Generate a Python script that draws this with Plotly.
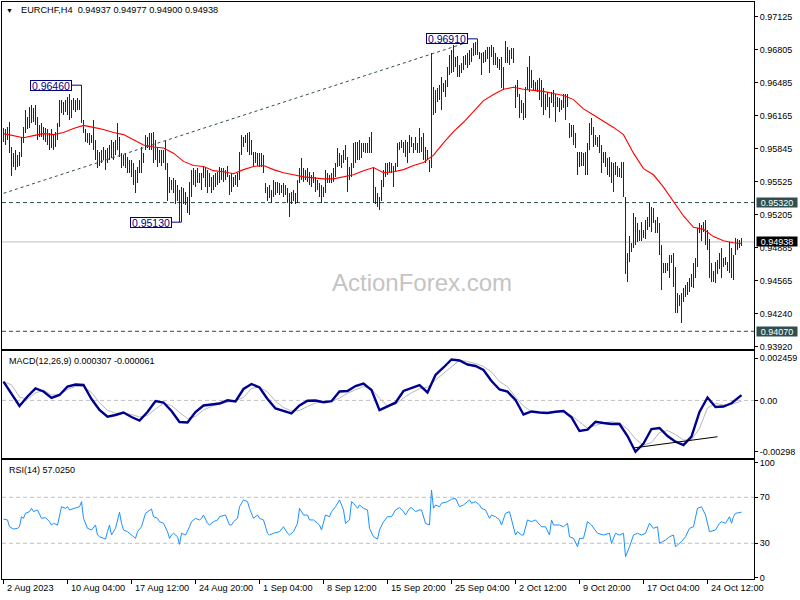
import plotly.graph_objects as go

# ---------------- data ----------------
symbol = "EURCHF,H4"
last_ohlc = [0.94937, 0.94977, 0.94900, 0.94938]

high = [
    0.9604, 0.9603, 0.9605, 0.9610, 0.9586, 0.9580, 0.9583, 0.9578, 0.9581, 0.9596,
    0.9605, 0.9622, 0.9615, 0.9625, 0.9627, 0.9624, 0.9627, 0.9615, 0.9607, 0.9609,
    0.9605, 0.9604, 0.9603, 0.9600, 0.9603, 0.9598, 0.9601, 0.9609, 0.9632, 0.9632,
    0.9630, 0.9632, 0.9635, 0.9637, 0.9632, 0.9634, 0.9632, 0.9634, 0.9632, 0.9646,
    0.9612, 0.9603, 0.9600, 0.9600, 0.9598, 0.9612, 0.9593, 0.9583, 0.9581, 0.9583,
    0.9586, 0.9583, 0.9585, 0.9588, 0.9593, 0.9591, 0.9593, 0.9609, 0.9596, 0.9580,
    0.9578, 0.9580, 0.9576, 0.9573, 0.9573, 0.9570, 0.9564, 0.9567, 0.9573, 0.9586,
    0.9580, 0.9598, 0.9596, 0.9600, 0.9600, 0.9601, 0.9593, 0.9586, 0.9583, 0.9583,
    0.9583, 0.9593, 0.9570, 0.9557, 0.9554, 0.9556, 0.9554, 0.9549, 0.9544, 0.9547,
    0.9546, 0.9542, 0.9537, 0.9552, 0.9564, 0.9566, 0.9564, 0.9566, 0.9561, 0.9561,
    0.9567, 0.9567, 0.9564, 0.9561, 0.9557, 0.9559, 0.9561, 0.9562, 0.9567, 0.9566,
    0.9566, 0.9564, 0.9568, 0.9559, 0.9561, 0.9557, 0.9559, 0.9561, 0.9581, 0.9598,
    0.9596, 0.9598, 0.9600, 0.9601, 0.9593, 0.9581, 0.9581, 0.9580, 0.9580, 0.9580,
    0.9578, 0.9551, 0.9547, 0.9549, 0.9544, 0.9554, 0.9552, 0.9552, 0.9551, 0.9549,
    0.9551, 0.9549, 0.9546, 0.9541, 0.9542, 0.9544, 0.9541, 0.9554, 0.9566, 0.9575,
    0.9566, 0.9564, 0.9566, 0.9562, 0.9559, 0.9562, 0.9557, 0.9554, 0.9551, 0.9549,
    0.9547, 0.9564, 0.9561, 0.9559, 0.9561, 0.9566, 0.9570, 0.9585, 0.9580, 0.9578,
    0.9583, 0.9588, 0.9576, 0.9567, 0.9570, 0.9590, 0.9591, 0.9591, 0.9593, 0.9590,
    0.9590, 0.9590, 0.9590, 0.9596, 0.9601, 0.9567, 0.9547, 0.9541, 0.9537, 0.9554,
    0.9564, 0.9570, 0.9570, 0.9571, 0.9570, 0.9568, 0.9570, 0.9590, 0.9591, 0.9593,
    0.9591, 0.9593, 0.9591, 0.9598, 0.9596, 0.9590, 0.9596, 0.9590, 0.9604, 0.9596,
    0.9600, 0.9586, 0.9583, 0.9573, 0.9677, 0.9644, 0.9641, 0.9643, 0.9646, 0.9654,
    0.9648, 0.9651, 0.9664, 0.9675, 0.9680, 0.9685, 0.9673, 0.9674, 0.9666, 0.9668,
    0.9674, 0.9675, 0.9677, 0.9680, 0.9682, 0.9687, 0.9688, 0.9691, 0.9678, 0.9677,
    0.9678, 0.9680, 0.9683, 0.9683, 0.9685, 0.9683, 0.9677, 0.9673, 0.9671, 0.9673,
    0.9664, 0.9689, 0.9683, 0.9680, 0.9682, 0.9682, 0.9646, 0.9651, 0.9637, 0.9632,
    0.9629, 0.9644, 0.9664, 0.9674, 0.9661, 0.9651, 0.9649, 0.9651, 0.9653, 0.9651,
    0.9643, 0.9637, 0.9639, 0.9635, 0.9639, 0.9641, 0.9637, 0.9635, 0.9634, 0.9632,
    0.9637, 0.9637, 0.9637, 0.9609, 0.9607, 0.9607, 0.9600, 0.9581, 0.9581, 0.9581,
    0.9580, 0.9581, 0.9590, 0.9609, 0.9614, 0.9605, 0.9598, 0.9596, 0.9598, 0.9588,
    0.9581, 0.9581, 0.9575, 0.9576, 0.9571, 0.9570, 0.9571, 0.9568, 0.9566, 0.9571,
    0.9571, 0.9537, 0.9483, 0.9500, 0.9493, 0.9522, 0.9518, 0.9512, 0.9505, 0.9513,
    0.9505, 0.9515, 0.9518, 0.9532, 0.9528, 0.9527, 0.9515, 0.9518, 0.9512, 0.9491,
    0.9473, 0.9473, 0.9473, 0.9481, 0.9481, 0.9483, 0.9469, 0.9444, 0.9442, 0.9444,
    0.9449, 0.9452, 0.9455, 0.9459, 0.9463, 0.9473, 0.9478, 0.9507, 0.9512, 0.9510,
    0.9513, 0.9515, 0.9505, 0.9497, 0.9473, 0.9466, 0.9474, 0.9476, 0.9483, 0.9488,
    0.9478, 0.9479, 0.9474, 0.9494, 0.9488, 0.9481, 0.9498, 0.9497, 0.9496, 0.94977,
]

low = [
    0.9591, 0.9588, 0.9593, 0.9580, 0.9558, 0.9567, 0.9564, 0.9567, 0.9568, 0.9576,
    0.9590, 0.9600, 0.9603, 0.9604, 0.9609, 0.9610, 0.9607, 0.9593, 0.9596, 0.9596,
    0.9593, 0.9591, 0.9588, 0.9583, 0.9585, 0.9583, 0.9586, 0.9593, 0.9605, 0.9619,
    0.9617, 0.9620, 0.9617, 0.9612, 0.9614, 0.9622, 0.9620, 0.9622, 0.9622, 0.9609,
    0.9600, 0.9591, 0.9590, 0.9588, 0.9590, 0.9583, 0.9573, 0.9566, 0.9568, 0.9570,
    0.9573, 0.9564, 0.9570, 0.9573, 0.9575, 0.9573, 0.9578, 0.9583, 0.9576, 0.9566,
    0.9568, 0.9566, 0.9561, 0.9561, 0.9557, 0.9549, 0.9541, 0.9551, 0.9561, 0.9561,
    0.9570, 0.9583, 0.9585, 0.9583, 0.9583, 0.9570, 0.9573, 0.9567, 0.9570, 0.9568,
    0.9570, 0.9564, 0.9534, 0.9541, 0.9544, 0.9541, 0.9531, 0.9534, 0.9513, 0.9513,
    0.9531, 0.9530, 0.9522, 0.9520, 0.9537, 0.9549, 0.9547, 0.9551, 0.9551, 0.9544,
    0.9556, 0.9547, 0.9541, 0.9547, 0.9541, 0.9544, 0.9547, 0.9549, 0.9551, 0.9554,
    0.9552, 0.9554, 0.9557, 0.9539, 0.9542, 0.9547, 0.9549, 0.9547, 0.9554, 0.9578,
    0.9586, 0.9590, 0.9581, 0.9578, 0.9578, 0.9568, 0.9570, 0.9568, 0.9567, 0.9567,
    0.9561, 0.9541, 0.9534, 0.9536, 0.9532, 0.9537, 0.9539, 0.9541, 0.9539, 0.9541,
    0.9537, 0.9539, 0.9532, 0.9518, 0.9531, 0.9534, 0.9531, 0.9532, 0.9551, 0.9554,
    0.9552, 0.9554, 0.9552, 0.9549, 0.9547, 0.9551, 0.9542, 0.9544, 0.9537, 0.9532,
    0.9537, 0.9541, 0.9551, 0.9551, 0.9551, 0.9552, 0.9557, 0.9567, 0.9568, 0.9566,
    0.9570, 0.9573, 0.9542, 0.9554, 0.9557, 0.9566, 0.9570, 0.9573, 0.9573, 0.9575,
    0.9581, 0.9580, 0.9580, 0.9580, 0.9580, 0.9532, 0.9531, 0.9528, 0.9525, 0.9534,
    0.9547, 0.9557, 0.9559, 0.9561, 0.9561, 0.9547, 0.9562, 0.9567, 0.9583, 0.9585,
    0.9580, 0.9576, 0.9570, 0.9580, 0.9586, 0.9580, 0.9583, 0.9580, 0.9580, 0.9581,
    0.9573, 0.9570, 0.9573, 0.9562, 0.9566, 0.9617, 0.9619, 0.9630, 0.9632, 0.9622,
    0.9639, 0.9635, 0.9644, 0.9656, 0.9658, 0.9659, 0.9664, 0.9654, 0.9654, 0.9658,
    0.9661, 0.9666, 0.9663, 0.9666, 0.9669, 0.9674, 0.9675, 0.9675, 0.9671, 0.9656,
    0.9668, 0.9669, 0.9671, 0.9658, 0.9673, 0.9666, 0.9666, 0.9663, 0.9661, 0.9643,
    0.9641, 0.9668, 0.9668, 0.9666, 0.9671, 0.9668, 0.9624, 0.9635, 0.9614, 0.9619,
    0.9612, 0.9614, 0.9641, 0.9639, 0.9643, 0.9641, 0.9641, 0.9639, 0.9632, 0.9625,
    0.9617, 0.9622, 0.9625, 0.9614, 0.9629, 0.9625, 0.9610, 0.9625, 0.9620, 0.9622,
    0.9624, 0.9612, 0.9625, 0.9595, 0.9596, 0.9588, 0.9585, 0.9559, 0.9567, 0.9568,
    0.9568, 0.9559, 0.9559, 0.9583, 0.9598, 0.9586, 0.9588, 0.9586, 0.9580, 0.9561,
    0.9570, 0.9567, 0.9559, 0.9557, 0.9551, 0.9542, 0.9559, 0.9557, 0.9557, 0.9556,
    0.9537, 0.9463, 0.9455, 0.9474, 0.9484, 0.9488, 0.9491, 0.9494, 0.9495, 0.9495,
    0.9498, 0.9497, 0.9505, 0.9508, 0.9503, 0.9512, 0.9502, 0.9502, 0.9481, 0.9447,
    0.9464, 0.9464, 0.9466, 0.9459, 0.9473, 0.9450, 0.9425, 0.9425, 0.9432, 0.9415,
    0.9435, 0.9440, 0.9442, 0.9445, 0.9450, 0.9449, 0.9459, 0.9469, 0.9502, 0.9495,
    0.9503, 0.9491, 0.9486, 0.9459, 0.9455, 0.9455, 0.9454, 0.9463, 0.9468, 0.9459,
    0.9469, 0.9471, 0.9466, 0.9464, 0.9459, 0.9457, 0.9481, 0.9486, 0.9488, 0.94900,
]

# moving average (red), read every 5 bars
ma_bar = list(range(0, 370, 5)) + [369]
ma = [
    0.9599, 0.9597, 0.9595, 0.9597, 0.9599, 0.9598, 0.9600, 0.9604, 0.9607, 0.9605,
    0.9603, 0.9600, 0.9598, 0.9593, 0.9588, 0.9586, 0.9585, 0.9580, 0.9572, 0.9568,
    0.9567, 0.9563, 0.9562, 0.9560, 0.9564, 0.9567, 0.9568, 0.9564, 0.9561, 0.9559,
    0.9557, 0.9556, 0.9555, 0.9555, 0.9557, 0.9559, 0.9563, 0.9566, 0.9561, 0.9562,
    0.9564, 0.9568, 0.9571, 0.9578, 0.9590, 0.9601, 0.9610, 0.9621, 0.9631, 0.9637,
    0.9642, 0.9644, 0.9642, 0.9641, 0.9640, 0.9638, 0.9636, 0.9632, 0.9623, 0.9617,
    0.9611, 0.9605, 0.9598, 0.9580, 0.9565, 0.9559, 0.9547, 0.9533, 0.9519, 0.9508,
    0.9506, 0.9499, 0.9495, 0.9493, 0.9492,
]

# MACD(12,26,9), read every 4 bars
macd_bar = list(range(0, 369, 4)) + [369]
macd = [
    0.001086, 0.000372, -0.000325, 0.000226, 0.000691, 0.000517, 0.000139, 0.000313, 0.000795, 0.000923,
    0.000894, 0.000081, -0.000557, -0.000946, -0.000848, -0.000702, -0.000964, -0.001167, -0.000673, -0.000035,
    -0.000122, -0.000615, -0.001254, -0.001283, -0.000673, -0.000296, -0.000238, -0.000180, 0.000006, -0.000064,
    0.000662, 0.000952, 0.000749, 0.000081, -0.000470, -0.000615, -0.000749, -0.000296, -0.000017, -0.000006,
    -0.000104, -0.000046, 0.000517, 0.000546, 0.000836, 0.000981, 0.000604, -0.000569, -0.000354, -0.000134,
    0.000546, 0.000731, 0.000882, 0.000459, 0.001474, 0.001910, 0.002374, 0.002316, 0.002084, 0.001997,
    0.001765, 0.001126, 0.000633, 0.000505, 0.000023, -0.000818, -0.000644, -0.000702, -0.000731, -0.000656,
    -0.000615, -0.000981, -0.001776, -0.001701, -0.001242, -0.001312, -0.001370, -0.001370, -0.002067, -0.002980,
    -0.002502, -0.001660, -0.001602, -0.002067, -0.002397, -0.002589, -0.002096, -0.000673, 0.000168, -0.000383,
    -0.000354, -0.000168, 0.000255, 0.000307,
]
signal = [
    0.001086, 0.000906, 0.000197, 0.000064, 0.000430, 0.000592, 0.000313, 0.000342, 0.000633, 0.000807,
    0.000807, 0.000459, -0.000139, -0.000575, -0.000749, -0.000749, -0.000818, -0.000964, -0.000877, -0.000499,
    -0.000180, -0.000296, -0.000702, -0.001051, -0.000935, -0.000557, -0.000354, -0.000209, -0.000110, -0.000023,
    0.000168, 0.000691, 0.000778, 0.000488, -0.000046, -0.000412, -0.000615, -0.000586, -0.000354, -0.000151,
    -0.000075, -0.000064, 0.000139, 0.000412, 0.000615, 0.000807, 0.000662, 0.000122, -0.000325, -0.000221,
    0.000139, 0.000441, 0.000673, 0.000766, 0.001184, 0.001550, 0.001939, 0.002328, 0.002258, 0.002142,
    0.001968, 0.001649, 0.001097, 0.000795, 0.000197, -0.000325, -0.000656, -0.000708, -0.000697, -0.000673,
    -0.000656, -0.000877, -0.001254, -0.001614, -0.001457, -0.001312, -0.001242, -0.001312, -0.001660, -0.002241,
    -0.002601, -0.002444, -0.001863, -0.001747, -0.001980, -0.002299, -0.002270, -0.001620, -0.000441, -0.000180,
    -0.000267, -0.000226, -0.000081, -0.000061,
]

# RSI(14)
rsi_bar = [
    0, 2, 3, 5, 7, 8, 9, 10, 11, 13, 14, 15, 17, 18, 19, 21, 23, 24, 25, 27,
    28, 29, 31, 32, 33, 35, 38, 39, 40, 42, 44, 46, 47, 48, 51, 52, 53, 54, 56, 58,
    59, 60, 62, 64, 66, 67, 69, 71, 73, 74, 75, 77, 78, 80, 82, 83, 84, 85, 87, 88,
    89, 91, 93, 94, 96, 98, 99, 100, 102, 103, 105, 107, 108, 111, 113, 114, 115, 117, 118, 120,
    122, 123, 125, 127, 128, 130, 132, 133, 135, 137, 138, 140, 142, 143, 145, 147, 148, 150, 152, 153,
    155, 157, 158, 159, 161, 163, 164, 166, 168, 170, 171, 173, 174, 175, 177, 178, 180, 182, 183, 185,
    187, 188, 190, 192, 194, 196, 198, 200, 201, 203, 204, 206, 208, 209, 211, 213, 214, 215, 216, 218,
    219, 222, 224, 226, 228, 230, 233, 234, 236, 238, 239, 241, 243, 244, 246, 248, 249, 251, 253, 256,
    257, 259, 260, 262, 264, 266, 268, 269, 271, 273, 274, 275, 278, 280, 282, 283, 285, 287, 288, 290,
    292, 294, 297, 300, 303, 304, 306, 308, 310, 311, 313, 315, 317, 319, 321, 323, 325, 327, 328, 331,
    333, 335, 336, 339, 341, 343, 345, 347, 349, 351, 353, 356, 358, 359, 361, 363, 364, 365, 366, 369,
]
rsi = [
    51.1, 50.3, 44.4, 42.4, 43.0, 44.4, 53.1, 51.7, 56.1, 57.5, 60.4, 57.5, 59.0, 54.6, 51.7, 52.3, 48.8, 45.9, 47.4, 45.9,
    54.6, 61.8, 60.4, 61.8, 59.0, 60.4, 61.8, 66.2, 51.7, 43.0, 41.6, 45.9, 37.2, 35.7, 33.7, 40.1, 45.9, 37.2, 43.0, 57.0,
    47.4, 41.6, 40.1, 37.2, 34.3, 40.1, 44.4, 56.1, 59.0, 59.8, 53.1, 51.7, 48.8, 47.4, 40.1, 34.3, 37.2, 38.7, 35.7, 29.1,
    38.7, 37.2, 44.4, 48.8, 51.7, 50.3, 51.7, 54.6, 47.4, 45.9, 48.8, 50.3, 53.1, 54.6, 45.9, 45.9, 48.8, 51.7, 61.8, 67.7,
    66.2, 60.4, 51.7, 54.6, 51.7, 50.3, 38.7, 37.2, 38.7, 40.1, 40.1, 44.4, 38.7, 37.2, 40.1, 47.4, 60.4, 54.6, 54.6, 50.3,
    50.3, 47.4, 45.9, 41.6, 54.6, 53.1, 57.5, 61.8, 67.7, 59.0, 47.4, 50.3, 66.2, 64.8, 60.4, 63.3, 60.4, 59.0, 43.0, 35.7,
    33.7, 41.6, 48.8, 53.1, 53.1, 59.0, 61.0, 57.5, 54.6, 60.4, 61.0, 57.5, 59.0, 59.0, 47.4, 45.9, 76.3, 60.4, 63.3, 61.8,
    64.8, 66.2, 68.3, 69.1, 61.8, 63.3, 67.7, 64.8, 66.2, 63.3, 60.4, 59.0, 51.7, 54.6, 53.1, 50.3, 45.9, 56.1, 57.5, 37.2,
    40.1, 37.2, 37.2, 50.3, 48.8, 50.3, 45.9, 44.4, 44.4, 37.2, 50.3, 45.9, 45.9, 44.4, 47.4, 35.7, 34.3, 27.0, 34.3, 34.3,
    48.8, 45.9, 38.7, 37.2, 38.7, 30.0, 38.7, 37.2, 38.7, 18.3, 27.0, 37.2, 38.7, 37.2, 38.7, 47.4, 43.0, 44.4, 30.0, 32.8,
    35.7, 37.2, 27.0, 31.5, 35.7, 43.0, 44.4, 60.4, 61.8, 54.6, 40.1, 41.6, 47.4, 48.8, 47.4, 53.1, 47.4, 53.1, 56.1, 57.025,
]

tick_bar = [0, 32, 64, 96, 128, 160, 192, 224, 256, 288, 320, 352]
tick_text = ["2 Aug 2023", "10 Aug 04:00", "17 Aug 12:00", "24 Aug 20:00", "1 Sep 04:00",
             "8 Sep 12:00", "15 Sep 20:00", "25 Sep 04:00", "2 Oct 12:00", "9 Oct 20:00",
             "17 Oct 04:00", "24 Oct 12:00"]

price_ticks = [0.97125, 0.96805, 0.96485, 0.96165, 0.95845, 0.95525, 0.95205, 0.94885, 0.94565, 0.94240, 0.93920]
price_tick_text = ["0.97125", "0.96805", "0.96485", "0.96165", "0.95845", "0.95525", "0.95205",
                   "0.94885", "0.94565", "0.94240", "0.93920"]

swing_bar = [39, 89, 237]
swing_price = [0.96460, 0.95130, 0.96910]
levels = [0.95320, 0.94070]
trend_bar = [0, 231]
trend_price = [0.9541, 0.9687]

macd_ticks = [0.002459, 0.0, -0.00298]
macd_tick_text = ["0.002459", "0.00", "-0.00298"]
macd_trend_bar = [315, 357]
macd_trend = [-0.00276, -0.00211]

rsi_ticks = [100, 70, 30, 0]
rsi_levels = [70, 30]

# ---------------- styling ----------------
FONT = "Liberation Sans, Arial, sans-serif"
BAR = "#0a2b44"
NAVY = "#000080"
SLATE = "#2f4f4f"
XR = [-0.75, 375.25]

fig = go.Figure()

# price bars: one-pixel bars from low to high (opacity < 1 makes plotly round edges to whole pixels)
fig.add_trace(go.Bar(
    x=list(range(len(high))), base=low, y=[h - l for h, l in zip(high, low)], width=0.5,
    marker=dict(color=BAR, opacity=0.995, line=dict(width=0)),
    xaxis="x", yaxis="y", hoverinfo="skip"))
fig.add_trace(go.Scatter(x=ma_bar, y=ma, mode="lines", line=dict(color="#ff0000", width=1.1),
                         xaxis="x", yaxis="y", hoverinfo="skip"))
fig.add_trace(go.Scatter(x=trend_bar, y=trend_price, mode="lines",
                         line=dict(color=SLATE, width=1, dash="3px,3px"),
                         xaxis="x", yaxis="y", hoverinfo="skip"))

fig.add_trace(go.Scatter(x=macd_bar, y=signal, mode="lines", line=dict(color="#b8b8b8", width=1),
                         xaxis="x2", yaxis="y2", hoverinfo="skip"))
fig.add_trace(go.Scatter(x=macd_bar, y=macd, mode="lines", line=dict(color="#00008f", width=2.4),
                         xaxis="x2", yaxis="y2", hoverinfo="skip"))
fig.add_trace(go.Scatter(x=macd_trend_bar, y=macd_trend, mode="lines", line=dict(color="black", width=1),
                         xaxis="x2", yaxis="y2", hoverinfo="skip"))

fig.add_trace(go.Scatter(x=rsi_bar, y=rsi, mode="lines", line=dict(color="#1e90ff", width=1),
                         xaxis="x3", yaxis="y3", hoverinfo="skip"))

shapes = []
for lv in levels:
    shapes.append(dict(type="line", xref="paper", x0=0, x1=1, yref="y", y0=lv, y1=lv,
                       line=dict(color=SLATE, width=1, dash="4px,3px"), layer="below"))
shapes.append(dict(type="line", xref="paper", x0=0, x1=1, yref="y", y0=last_ohlc[3], y1=last_ohlc[3],
                   line=dict(color="#c0c0c0", width=1), layer="below"))
shapes.append(dict(type="line", xref="paper", x0=0, x1=1, yref="y2", y0=0, y1=0,
                   line=dict(color="#c0c0c0", width=1, dash="4px,3px"), layer="below"))
for lv in rsi_levels:
    shapes.append(dict(type="line", xref="paper", x0=0, x1=1, yref="y3", y0=lv, y1=lv,
                       line=dict(color="#c0c0c0", width=1, dash="4px,3px"), layer="below"))
for b, p in zip(swing_bar, swing_price):
    shapes.append(dict(type="line", xref="x", x0=b - 5, x1=b, yref="y", y0=p, y1=p,
                       line=dict(color=NAVY, width=1)))

ann = []
ann.append(dict(text="▼", xref="paper", yref="paper", x=0.0106, y=0.9861, xanchor="center",
                yanchor="middle", showarrow=False, font=dict(family=FONT, size=7, color="black")))
ann.append(dict(text=f"{symbol}  " + " ".join(f"{v:.5f}" for v in last_ohlc),
                xref="paper", yref="paper", x=0.0226, y=0.9861, xanchor="left", yanchor="middle",
                showarrow=False, font=dict(family=FONT, size=9.2, color="black")))
ann.append(dict(text="ActionForex.com", xref="paper", yref="paper", x=0.5585, y=0.513,
                xanchor="center", yanchor="middle", showarrow=False,
                font=dict(family=FONT, size=24, color="#c4c4c4")))
ann.append(dict(text=f"MACD(12,26,9) {macd[-1]:.6f} {signal[-1]:.6f}", xref="paper", yref="paper",
                x=0.0066, y=0.3778, xanchor="left", yanchor="middle", showarrow=False,
                font=dict(family=FONT, size=9, color="black")))
ann.append(dict(text=f"RSI(14) {rsi[-1]:.4f}", xref="paper", yref="paper",
                x=0.0066, y=0.1889, xanchor="left", yanchor="middle", showarrow=False,
                font=dict(family=FONT, size=9, color="black")))
for b, p in zip(swing_bar, swing_price):
    ann.append(dict(text=f"{p:.5f}", xref="x", yref="y", x=b, y=p, xanchor="right", yanchor="middle",
                    xshift=-10, showarrow=False, bgcolor="white", bordercolor=NAVY, borderwidth=1,
                    borderpad=0, width=40, height=9,
                    font=dict(family=FONT, size=10.5, color=NAVY)))
for lv in levels:
    ann.append(dict(text=f"{lv:.5f}", xref="paper", yref="y", x=1, y=lv, xanchor="left",
                    yanchor="middle", xshift=2, showarrow=False, bgcolor=SLATE, borderpad=0,
                    width=40, height=9, font=dict(family=FONT, size=9, color="white")))
ann.append(dict(text=f"{last_ohlc[3]:.5f}", xref="paper", yref="y", x=1, y=last_ohlc[3], xanchor="left",
                yanchor="middle", xshift=2, showarrow=False, bgcolor="black", borderpad=0,
                width=40, height=9, font=dict(family=FONT, size=9, color="white")))
for b, t in zip(tick_bar, tick_text):
    ann.append(dict(text=t, xref="x3", yref="paper", x=b, y=-0.0161, xanchor="left", yanchor="middle",
                    xshift=1, showarrow=False, font=dict(family=FONT, size=9.2, color="black")))

axis_common = dict(showline=True, mirror=True, linecolor="black", linewidth=1,
                   showgrid=False, zeroline=False, fixedrange=True)
yfont = dict(family=FONT, size=9, color="black")

fig.update_layout(
    width=800, height=600, margin=dict(l=2, r=46, t=2, b=21, autoexpand=False),
    paper_bgcolor="white", plot_bgcolor="white", showlegend=False, hovermode=False,
    bargap=0, bargroupgap=0,
    xaxis=dict(domain=[0, 1], range=XR, anchor="y", showticklabels=False, ticks="", **axis_common),
    xaxis2=dict(domain=[0, 1], range=XR, anchor="y2", showticklabels=False, ticks="", **axis_common),
    xaxis3=dict(domain=[0, 1], range=XR, anchor="y3", showticklabels=False, ticks="outside",
                ticklen=4, tickcolor="black", tickvals=tick_bar, **axis_common),
    yaxis=dict(domain=[0.3981, 1.0], range=[0.938955, 0.972677], anchor="x", side="right",
               ticks="outside", ticklen=3, tickcolor="black", tickvals=price_ticks,
               ticktext=price_tick_text, tickfont=yfont, **axis_common),
    yaxis2=dict(domain=[0.2097, 0.3957], range=[-0.003344, 0.002885], anchor="x2", side="right",
                ticks="outside", ticklen=3, tickcolor="black", tickvals=macd_ticks,
                ticktext=macd_tick_text, tickfont=yfont, **axis_common),
    yaxis3=dict(domain=[0, 0.2068], range=[-1.04, 102.7], anchor="x3", side="right",
                ticks="outside", ticklen=3, tickcolor="black", tickvals=rsi_ticks,
                ticktext=[str(v) for v in rsi_ticks], tickfont=yfont, **axis_common),
    shapes=shapes, annotations=ann,
)

post = "document.body.style.margin='0';document.body.style.overflow='hidden';"
fig.write_html("out.html", config={"displayModeBar": False}, post_script=post)
